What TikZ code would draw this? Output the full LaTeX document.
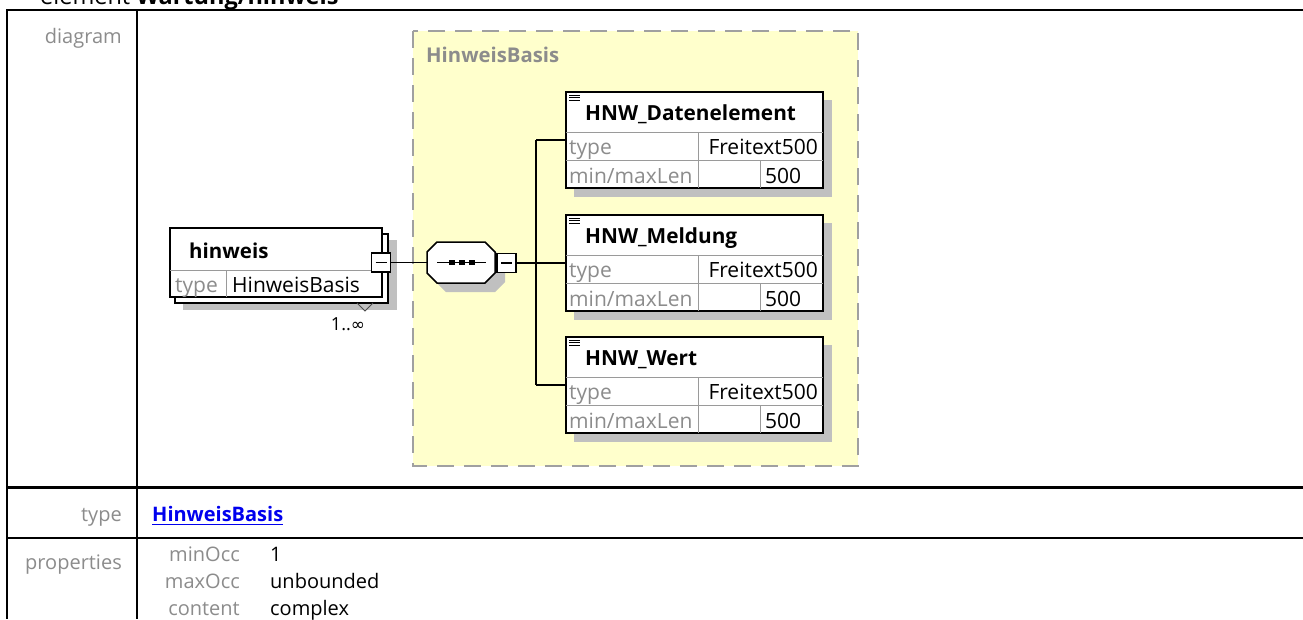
\documentclass[tikz,border=0pt]{standalone}
\usepackage{fontspec}
\setmainfont{Open Sans}
\newfontfamily\dejavu{DejaVu Sans}
\usetikzlibrary{calc}
\definecolor{lbl}{HTML}{8C8C8C}
\definecolor{ybg}{HTML}{FFFFCC}
\definecolor{shad}{HTML}{C0C0C0}
\definecolor{linkc}{HTML}{0000EE}
\definecolor{dashc}{HTML}{A0A0A0}
\definecolor{inl}{HTML}{9A9A9A}
\begin{document}
\begin{tikzpicture}[x=1pt,y=-1pt,
  tbl/.style={line width=2.8pt,black},
  lab/.style={inner sep=0pt,font=\fontsize{20}{24}\selectfont,text=lbl},
  val/.style={inner sep=0pt,font=\fontsize{20}{24}\selectfont,text=black},
  ttl/.style={inner sep=0pt,font=\bfseries\fontsize{20.8}{24}\selectfont,text=black},
  inlab/.style={inner sep=0pt,font=\fontsize{21}{24}\selectfont,text=lbl},
  inval/.style={inner sep=0pt,font=\fontsize{21}{24}\selectfont,text=black},
  elbox/.style={draw=black,line width=1.5pt,fill=white,inner sep=0pt},
  inner/.style={draw=inl,line width=1pt},
  conn/.style={draw=black,line width=1.4pt},
  minusbox/.style={draw=black,line width=1.4pt,fill=white,inner sep=0pt,minimum width=19pt,minimum height=19pt}
]
\useasboundingbox (0,0) rectangle (1303,619);
\fill[white] (0,0) rectangle (1303,619);

% title (clipped at top, as in the reference)
\node[anchor=base west,inner sep=0pt,font=\fontsize{23.5}{26}\selectfont] (title) at (40,4) {element \textbf{Wartung/hinweis}};

% outer table
\draw[tbl] (1303,10) -- (7,10) -- (7,619);
\draw[tbl] (137,10) -- (137,619);
\draw[tbl] (7,487.5) -- (1303,487.5);
\draw[tbl] (7,538) -- (1303,538);

\node[lab,anchor=base east] (ldiag) at (122,43) {diagram};
\node[lab,anchor=base east] (ltype) at (122,521) {type};
\node[inner sep=0pt,anchor=base west,font=\bfseries\fontsize{20}{24}\selectfont,text=linkc] (lk) at (152,521) {HinweisBasis};
\draw[linkc,line width=1.3pt] ($(lk.base west)+(0,3.5)$) -- ($(lk.base east)+(0,3.5)$);
\node[lab,anchor=base east] (lprop) at (122,569) {properties};
\node[lab,anchor=base east] (pmin) at (240,561) {minOcc};
\node[lab,anchor=base east] (pmax) at (240,588) {maxOcc};
\node[lab,anchor=base east] (pcon) at (240,615) {content};
\node[val,anchor=base west] (vmin) at (270,561) {1};
\node[val,anchor=base west] (vmax) at (270,588) {unbounded};
\node[val,anchor=base west] (vcon) at (270,615) {complex};

% complex type area
\draw[fill=ybg,draw=dashc,line width=1.8pt,dash pattern=on 17pt off 10pt] (413,31) rectangle (858,466);
\node[inner sep=0pt,anchor=base west,font=\bfseries\fontsize{20.3}{24}\selectfont,text=lbl] (ctname) at (426,62) {HinweisBasis};

% hinweis element (multiple occurrences)
\fill[shad] (183,240) rectangle (397,310);
\draw[elbox] (175,234) rectangle (388,303);
\node[elbox,minimum width=212pt,minimum height=69pt] (hin) at (276,262.5) {};
\draw[inner] (170,270) -- (382,270);
\draw[inner] (226,270) -- (226,297);
\node[ttl,anchor=base west,font=\bfseries\fontsize{20.5}{24}\selectfont] (hinT) at (189,258) {hinweis};
\node[inlab,anchor=base west] (hinty) at (175,292) {type};
\node[inval,anchor=base west] (hintv) at (232,292) {HinweisBasis};
\node[minusbox] (hinm) at (381,262.5) {};
\draw[black,line width=1.3pt] (375.5,262.5) -- (386.5,262.5);
\draw[black!70,line width=1pt] (357,303) -- (365,311) -- (373,303);
\node[inner sep=0pt,anchor=base,font=\fontsize{18}{22}\selectfont] (occ) at (348,330) {1..{\dejavu\fontsize{17}{20}\selectfont ∞}};

% sequence compositor
\fill[shad] (446,251) -- (495,251) -- (505,261) -- (505,282) -- (495,292) -- (446,292) -- (436,282) -- (436,261) -- cycle;
\draw[fill=white,draw=black,line width=1.5pt] (437,242) -- (485,242) -- (495,252) -- (495,273) -- (485,283) -- (437,283) -- (427,273) -- (427,252) -- cycle;
\coordinate (seqW) at (427,262.5);
\draw[black,line width=1.3pt] (437,262.5) -- (486,262.5);
\foreach \dx in {452,462,472} \fill[black] (\dx-3,260) rectangle (\dx+3,265);
\node[minusbox] (seqm) at (506.5,263) {};
\draw[black,line width=1.3pt] (501,263) -- (512,263);

\draw[conn] (hinm.east) -- (seqW);
\coordinate (trunk) at (536,263);
\coordinate (tTop) at (536,140);
\coordinate (tBot) at (536,385);
\draw[conn] (seqm.east) -- (trunk);

% child elements
\foreach \T/\nm/\lb in {92/dat/HNW\_Datenelement,215/mel/HNW\_Meldung,337/wer/HNW\_Wert}{
  \fill[shad] (574,\T+8) rectangle (832,\T+105);
  \node[elbox,minimum width=257pt,minimum height=96pt] (\nm) at (694.5,\T+48) {};
  \draw[inner] (566,\T+40) -- (823,\T+40);
  \draw[inner] (566,\T+68) -- (823,\T+68);
  \draw[inner] (698,\T+40) -- (698,\T+96);
  \draw[inner] (760,\T+68) -- (760,\T+96);
  \foreach \k in {3,5.5,8} \draw[black,line width=0.9pt] (569,\T+\k) -- (580,\T+\k);
  \node[ttl,anchor=base west] (\nm T) at (585,\T+28) {\lb};
  \node[inlab,anchor=base west] (\nm a) at (569,\T+62) {type};
  \node[inval,anchor=base east] (\nm b) at (818,\T+62) {Freitext500};
  \node[inlab,anchor=base west] (\nm c) at (569,\T+91) {min/maxLen};
  \node[inval,anchor=base west] (\nm d) at (765,\T+91) {500};
}
\draw[conn] (tTop) -- (tBot);
\draw[conn] (tTop) -- (dat.west);
\draw[conn] (trunk) -- (mel.west);
\draw[conn] (tBot) -- (wer.west);
\end{tikzpicture}
\end{document}
